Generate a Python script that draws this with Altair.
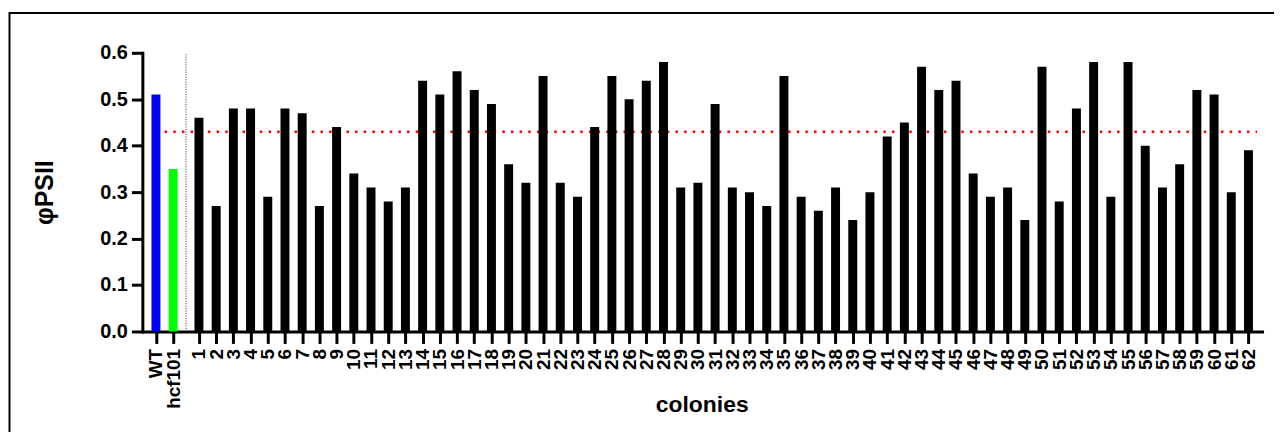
import altair as alt
import pandas as pd

# ---- data ----
controls = ["WT", "hcf101"]
control_values = [0.51, 0.35]
control_colors = ["#0000FF", "#00FF00"]

colonies = [str(i) for i in range(1, 63)]
colony_values = [
    0.46, 0.27, 0.48, 0.48, 0.29, 0.48, 0.47, 0.27, 0.44, 0.34,
    0.31, 0.28, 0.31, 0.54, 0.51, 0.56, 0.52, 0.49, 0.36, 0.32,
    0.55, 0.32, 0.29, 0.44, 0.55, 0.50, 0.54, 0.58, 0.31, 0.32,
    0.49, 0.31, 0.30, 0.27, 0.55, 0.29, 0.26, 0.31, 0.24, 0.30,
    0.42, 0.45, 0.57, 0.52, 0.54, 0.34, 0.29, 0.31, 0.24, 0.57,
    0.28, 0.48, 0.58, 0.29, 0.58, 0.40, 0.31, 0.36, 0.52, 0.51,
    0.30, 0.39,
]
threshold = 0.43
y_ticks = [0.0, 0.1, 0.2, 0.3, 0.4, 0.5, 0.6]

# slot positions: controls at 0,1; gap; colonies from 2.5
GAP = 1.5
rows = []
for i, (lab, v, c) in enumerate(zip(controls, control_values, control_colors)):
    rows.append({"label": lab, "pos": float(i), "value": v, "color": c})
for i, (lab, v) in enumerate(zip(colonies, colony_values)):
    rows.append({"label": lab, "pos": len(controls) - 1 + GAP + i, "value": v, "color": "#000000"})
df = pd.DataFrame(rows)
positions = list(df["pos"])
x_max = positions[-1] + 0.5
sep_pos = (len(controls) - 1 + len(controls) - 1 + GAP) / 2.0

FONT = "Liberation Sans"

x_scale = alt.Scale(domain=[-0.5, x_max], nice=False, zero=False)
y_scale = alt.Scale(domain=[0, 0.6], nice=False)

label_expr = ("datum.value == 0 ? 'WT' : datum.value == 1 ? 'hcf101' : "
              "format(datum.value - %s, 'd')" % (len(controls) - 1 + GAP - 1))

def x_axis():
    return alt.Axis(values=positions, labelExpr=label_expr, labelAngle=-90,
                    labelOverlap=False, labelFlush=False, grid=False,
                    tickSize=12, labelPadding=5, title="colonies",
                    titleX=562, titleY=80, titleBaseline="alphabetic",
                    titleFontSize=23, labelFontSize=19)

def y_axis():
    return alt.Axis(values=y_ticks, format=".1f", grid=False, tickSize=11,
                    labelPadding=4, title="φPSII", titleX=-90, titleY=140,
                    titleBaseline="alphabetic", titleFontSize=25,
                    labelFontSize=20)

bars = alt.Chart(df).mark_bar(size=9).encode(
    x=alt.X("pos:Q", scale=x_scale, axis=x_axis()),
    y=alt.Y("value:Q", scale=y_scale, axis=y_axis()),
    color=alt.Color("color:N", scale=None),
)

ref = pd.DataFrame({"pos": [0.0], "x2": [x_max], "value": [threshold]})
red_line = alt.Chart(ref).mark_rule(color="#FF0000", strokeWidth=2.5,
                                    strokeDash=[2.5, 6.2]).encode(
    x=alt.X("pos:Q", scale=x_scale, axis=x_axis()), x2="x2:Q",
    y=alt.Y("value:Q", scale=y_scale, axis=y_axis())
)

sep = pd.DataFrame({"pos": [sep_pos], "value": [0.0], "y2": [0.6]})
sep_line = alt.Chart(sep).mark_rule(color="#333333", strokeWidth=1,
                                    strokeDash=[1, 1.5]).encode(
    x=alt.X("pos:Q", scale=x_scale, axis=x_axis()),
    y=alt.Y("value:Q", scale=y_scale, axis=y_axis()), y2="y2:Q"
)

frame = alt.Chart(ref).mark_rect(fillOpacity=0, stroke="black", strokeWidth=2).encode(
    x=alt.value(-133.5), x2=alt.value(1400), y=alt.value(-40), y2=alt.value(600)
)

chart = alt.layer(frame, red_line, sep_line, bars).properties(
    width=1125, height=280,
    autosize=alt.AutoSizeParams(type="none"),
    padding={"left": 135, "top": 44, "right": 12, "bottom": 100},
).configure_view(strokeWidth=0).configure_axis(
    domainWidth=3, domainColor="black", domainCap="square",
    tickWidth=3, tickColor="black",
    labelFont=FONT, labelFontWeight="bold", labelColor="black",
    titleFont=FONT, titleFontWeight="bold", titleColor="black",
)

chart.save("out.html", embed_options={"renderer": "svg", "actions": False})
